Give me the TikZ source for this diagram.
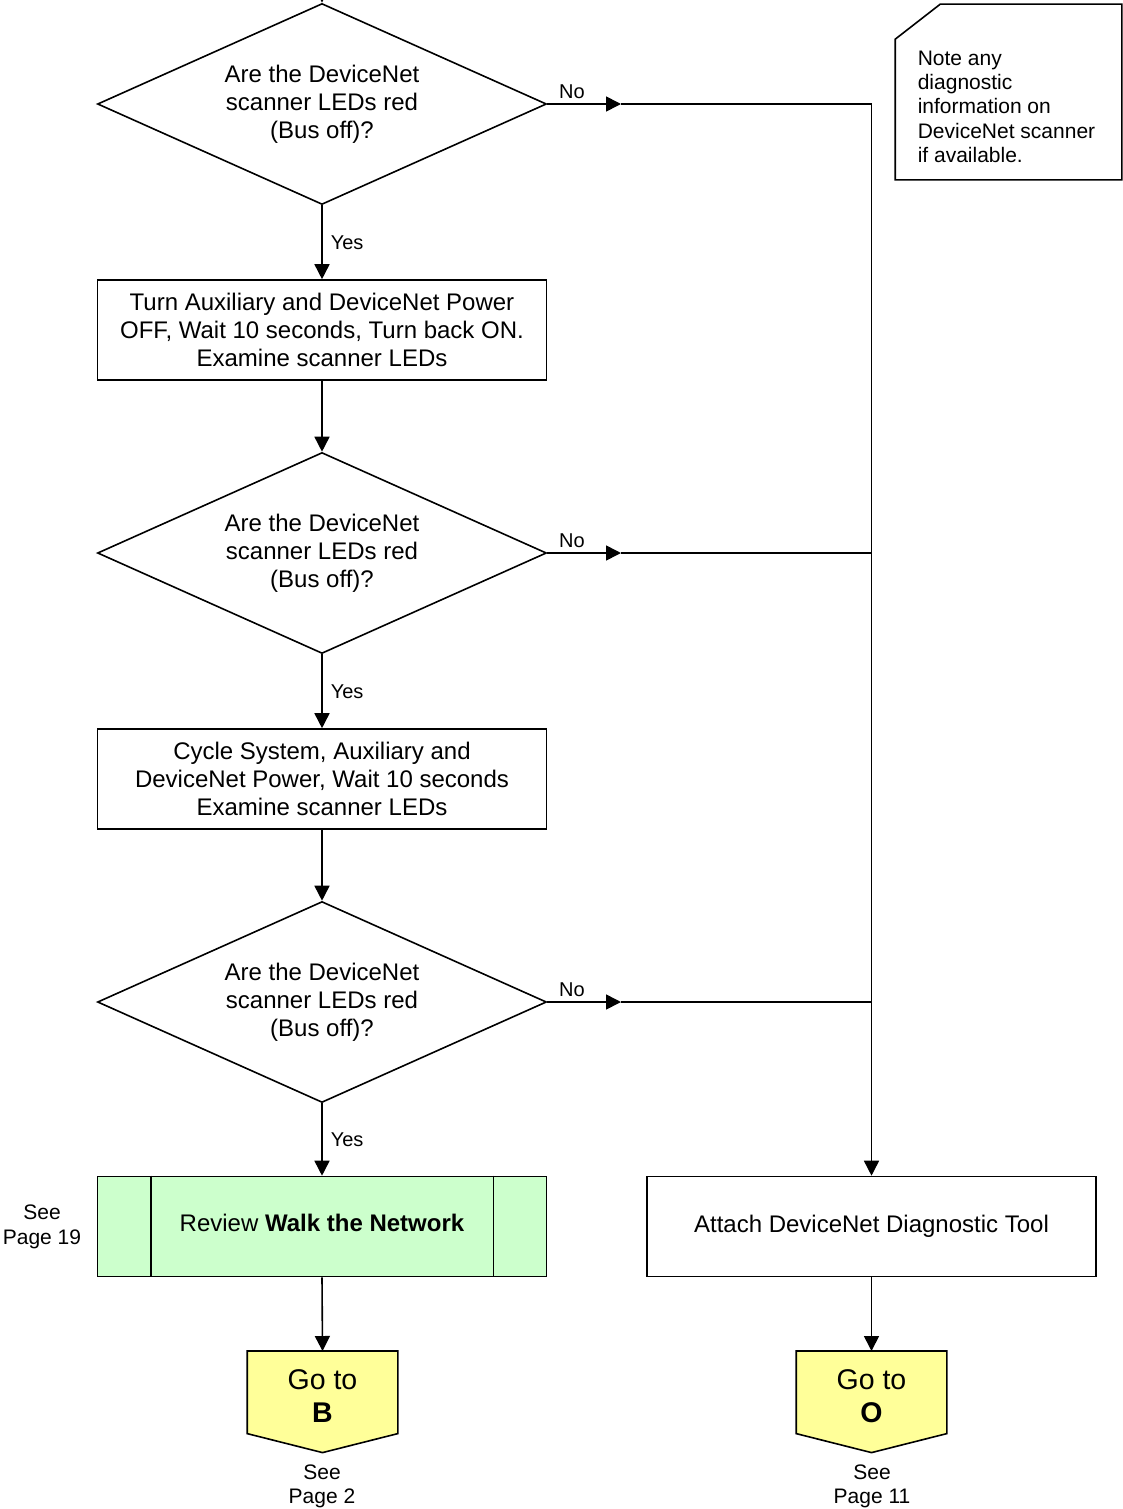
\documentclass[tikz,border=0pt]{standalone}
\usepackage{fontspec}
\setmainfont{Liberation Sans}
\usetikzlibrary{shapes.geometric,arrows.meta}
\definecolor{procgreen}{HTML}{CCFFCC}
\definecolor{goyellow}{HTML}{FFFF99}
\tikzset{
  flow/.style={-{Triangle[length=15pt,width=15pt]}},
  decision/.style={diamond, draw, minimum width=449pt, minimum height=201pt, aspect=2.234, inner sep=0pt, align=center, font=\fontsize{24}{27.8}\selectfont},
  stepbox/.style={rectangle, draw, minimum width=449pt, minimum height=100pt, inner sep=0pt, align=center, font=\fontsize{24}{27.8}\selectfont},
  smalllbl/.style={font=\fontsize{20}{24}\selectfont, inner sep=0pt},
  seelbl/.style={font=\fontsize{21}{24.5}\selectfont, align=center, inner sep=0pt},
  gotext/.style={rectangle, minimum width=149pt, minimum height=81pt, inner sep=0pt, align=center, font=\fontsize{28.5}{33}\selectfont},
}
\begin{document}
\begin{tikzpicture}[x=1pt,y=-1pt,line width=1.6pt]
\useasboundingbox (0,0) rectangle (1123,1509);
\clip (0,0) rectangle (1123,1509);

% decisions
\node[decision] (d1) at (322,104) {Are the DeviceNet\\scanner LEDs red\\(Bus off)?};
\node[decision] (d2) at (322,553) {Are the DeviceNet\\scanner LEDs red\\(Bus off)?};
\node[decision] (d3) at (322,1002) {Are the DeviceNet\\scanner LEDs red\\(Bus off)?};

% process boxes
\node[stepbox] (b1) at (322,330) {Turn Auxiliary and DeviceNet Power\\OFF, Wait 10 seconds, Turn back ON.\\Examine scanner LEDs};
\node[stepbox] (b2) at (322,779) {Cycle System, Auxiliary and\\DeviceNet Power, Wait 10 seconds\\Examine scanner LEDs};
\node[stepbox, fill=procgreen] (g) at (322,1226.5) {\raisebox{8pt}{Review \textbf{Walk the Network}}};
\draw ([xshift=54pt]g.north west) -- ([xshift=54pt]g.south west);
\draw ([xshift=-54pt]g.north east) -- ([xshift=-54pt]g.south east);
\node[stepbox] (att) at (871.5,1226.5) {\raisebox{-4pt}{Attach DeviceNet Diagnostic Tool}};

% go-to connectors
\node[gotext, anchor=north] (goB) at (322.5,1351) {};
\draw[fill=goyellow] (goB.north west) -- (goB.north east) -- (goB.south east) -- ([yshift=-19pt]goB.south) -- (goB.south west) -- cycle;
\node[gotext, anchor=north] at ([yshift=-4pt]goB.north) {Go to\\\textbf{B}};
\node[gotext, anchor=north] (goO) at (871.5,1351) {};
\draw[fill=goyellow] (goO.north west) -- (goO.north east) -- (goO.south east) -- ([yshift=-19pt]goO.south) -- (goO.south west) -- cycle;
\node[gotext, anchor=north] at ([yshift=-4pt]goO.north) {Go to\\\textbf{O}};

% note
\node[rectangle, minimum width=225pt, minimum height=174pt, inner sep=0pt] (note) at (1008.5,92) {};
\draw ([yshift=-35pt]note.north west) -- ([xshift=45pt]note.north west) -- (note.north east) -- (note.south east) -- (note.south west) -- cycle;
\node[anchor=north west, align=left, inner sep=0pt, font=\fontsize{21}{24.3}\selectfont] (notetxt) at (917,50) {Note any\\diagnostic\\information on\\DeviceNet scanner\\if available.};

% side labels
\node[seelbl] (see19) at (42,1227) {See\\Page 19};
\node[seelbl, anchor=north] (see2) at (322,1464) {See\\Page 2};
\node[seelbl, anchor=north] (see11) at (872,1464) {See\\Page 11};

% coordinates
\coordinate (top) at (322,-30);
\coordinate (a1) at (621,104);
\coordinate (a2) at (621,553);
\coordinate (a3) at (621,1002);
\coordinate (j1) at (871.5,104);
\coordinate (j2) at (871.5,553);
\coordinate (j3) at (871.5,1002);

% main flow
\draw[flow] (top) -- (d1.north);
\draw[flow] (d1.south) -- node[smalllbl, anchor=west, xshift=8pt] {Yes} (b1.north);
\draw[flow] (b1.south) -- (d2.north);
\draw[flow] (d2.south) -- node[smalllbl, anchor=west, xshift=8pt] {Yes} (b2.north);
\draw[flow] (b2.south) -- (d3.north);
\draw[flow] (d3.south) -- node[smalllbl, anchor=west, xshift=8pt] {Yes} (g.north);
\draw[flow] (g.south) -- (goB.north);
\draw[flow] (att.south) -- (goO.north);

% No branches
\draw[flow] (d1.east) -- (a1);
\draw[flow] (d2.east) -- (a2);
\draw[flow] (d3.east) -- (a3);
\node[smalllbl] at (572,92) {No};
\node[smalllbl] at (572,541) {No};
\node[smalllbl] at (572,990) {No};
\draw (a1) -- (j1);
\draw (a2) -- (j2);
\draw (a3) -- (j3);
\draw[flow] (j1) -- (att.north);
\end{tikzpicture}
\end{document}
